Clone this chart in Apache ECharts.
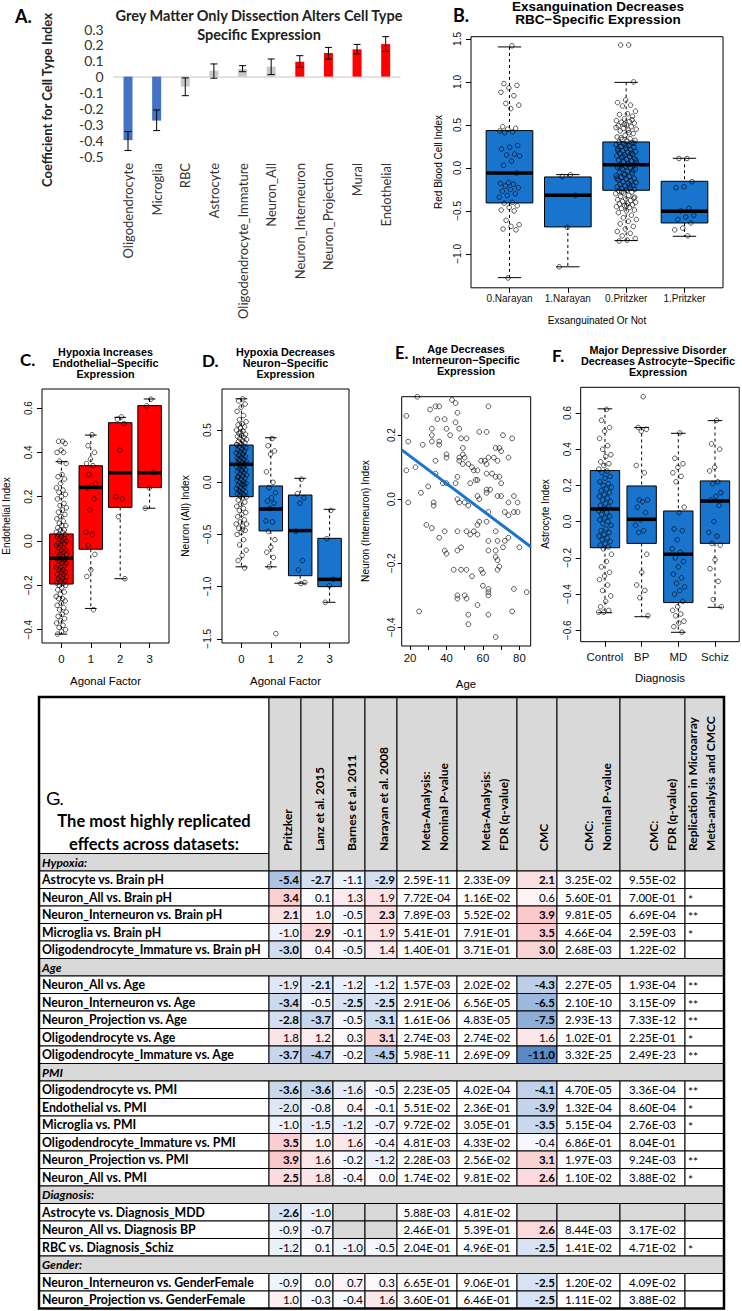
<!DOCTYPE html>
<html><head><meta charset="utf-8">
<script src="https://cdn.jsdelivr.net/npm/echarts@6/dist/echarts.min.js"></script>
<style>html,body{margin:0;padding:0;background:#fff;overflow:hidden}#c{width:742px;height:1311px}</style>
</head><body><div id="c"></div><script>
// ---------- Panel A data ----------
const cellTypes = ['Oligodendrocyte','Microglia','RBC','Astrocyte','Oligodendrocyte_Immature','Neuron_All','Neuron_Interneuron','Neuron_Projection','Mural','Endothelial'];
const greyMatterCoef = [-0.40,-0.277,-0.063,0.038,0.048,0.063,0.094,0.149,0.172,0.205];
const greyMatterLow  = [-0.465,-0.34,-0.12,-0.01,0.031,0.013,0.059,0.111,0.143,0.159];
const greyMatterHigh = [-0.346,-0.21,-0.008,0.08,0.069,0.111,0.132,0.184,0.203,0.252];
const greyMatterDir  = ['down','down','ns','ns','ns','ns','up','up','up','up'];

// ---------- Panel B data ----------
const exsGroups = ['0.Narayan','1.Narayan','0.Pritzker','1.Pritzker'];
const exsLow = [-1.276,-1.15,-0.845,-0.795];
const exsQ1  = [-0.407,-0.686,-0.26,-0.64];
const exsMed = [-0.058,-0.318,0.038,-0.505];
const exsQ3  = [0.434,-0.105,0.302,-0.155];
const exsHigh= [1.407,-0.078,0.995,0.112];
const rbcNarayan0 = [1.42,0.98,0.96,0.93,0.88,0.84,0.75,0.73,0.69,0.48,0.46,0.45,0.43,0.42,0.41,0.26,0.24,0.22,0.16,0.15,0.14,0.08,0.03,-0.06,-0.17,-0.18,-0.19,-0.21,-0.23,-0.25,-0.27,-0.30,-0.32,-0.34,-0.40,-0.41,-0.44,-0.46,-0.49,-0.50,-0.61,-0.66,-0.68,-0.71,-0.72,-1.28];
const rbcNarayan1 = [-0.08,-0.10,-0.32,-0.69,-1.15];
const rbcPritzker0 = [1.43,1.43,1.00,0.79,0.76,0.73,0.72,0.66,0.63,0.62,0.60,0.57,0.55,0.54,0.53,0.52,0.50,0.49,0.48,0.46,0.45,0.44,0.43,0.40,0.38,0.36,0.34,0.33,0.32,0.31,0.30,0.29,0.28,0.27,0.26,0.25,0.24,0.23,0.22,0.21,0.20,0.19,0.18,0.17,0.16,0.15,0.14,0.13,0.12,0.11,0.10,0.09,0.08,0.07,0.06,0.05,0.04,0.03,0.02,0.01,0.00,-0.01,-0.02,-0.04,-0.05,-0.06,-0.08,-0.09,-0.10,-0.11,-0.12,-0.13,-0.14,-0.15,-0.16,-0.17,-0.18,-0.19,-0.20,-0.21,-0.22,-0.23,-0.24,-0.25,-0.26,-0.27,-0.28,-0.29,-0.30,-0.32,-0.33,-0.35,-0.36,-0.37,-0.38,-0.39,-0.40,-0.41,-0.42,-0.43,-0.44,-0.45,-0.46,-0.47,-0.49,-0.50,-0.52,-0.55,-0.58,-0.60,-0.62,-0.65,-0.68,-0.71,-0.74,-0.76,-0.79,-0.82,-0.84,-0.85,0.56,0.51,0.47,0.41,0.35,0.29,0.26,0.20,0.17,0.13,0.09,0.05,0.01,-0.03,-0.07,-0.12,-0.20,-0.28,-0.34,-0.44];
const rbcPritzker1 = [0.11,0.11,-0.16,-0.22,-0.23,-0.47,-0.50,-0.55,-0.57,-0.60,-0.64,-0.70,-0.72,-0.79];

// ---------- Panel C data ----------
const agonalGroups = ['0','1','2','3'];
const endoLow = [-0.42,-0.304,-0.17,0.148];
const endoQ1  = [-0.194,-0.037,0.152,0.241];
const endoMed = [-0.078,0.242,0.308,0.308];
const endoQ3  = [0.032,0.34,0.534,0.611];
const endoHigh= [0.358,0.478,0.558,0.641];
const endoAgonal0 = [0.45,0.45,0.44,0.41,0.40,0.40,0.36,0.35,0.30,0.29,0.28,0.26,0.24,0.23,0.22,0.21,0.20,0.19,0.17,0.16,0.15,0.14,0.13,0.12,0.11,0.10,0.09,0.08,0.07,0.07,0.06,0.05,0.05,0.04,0.04,0.03,0.03,0.02,0.02,0.01,0.01,0.00,0.00,-0.01,-0.01,-0.02,-0.02,-0.03,-0.03,-0.04,-0.04,-0.05,-0.05,-0.06,-0.06,-0.07,-0.07,-0.08,-0.08,-0.08,-0.09,-0.09,-0.10,-0.10,-0.11,-0.11,-0.12,-0.12,-0.13,-0.13,-0.14,-0.14,-0.15,-0.15,-0.16,-0.16,-0.17,-0.17,-0.18,-0.18,-0.19,-0.19,-0.20,-0.20,-0.21,-0.22,-0.23,-0.24,-0.25,-0.26,-0.26,-0.27,-0.28,-0.29,-0.30,-0.31,-0.32,-0.33,-0.34,-0.35,-0.36,-0.37,-0.38,-0.39,-0.40,-0.41,-0.42];
const endoAgonal1 = [0.48,0.43,0.40,0.37,0.35,0.34,0.30,0.26,0.25,0.24,0.19,0.14,0.04,0.03,-0.02,-0.06,-0.13,-0.16,-0.31];
const endoAgonal2 = [0.56,0.55,0.53,0.41,0.20,0.19,0.11,-0.17];
const endoAgonal3 = [0.64,0.61,0.31,0.24,0.148];

// ---------- Panel D data ----------
const neuLow = [-0.81,-0.81,-0.967,-1.15];
const neuQ1  = [-0.138,-0.466,-0.895,-1.0];
const neuMed = [0.172,-0.256,-0.463,-0.93];
const neuQ3  = [0.357,-0.035,-0.122,-0.537];
const neuHigh= [0.80,0.427,0.038,-0.259];
const neuAgonal0 = [0.80,0.78,0.75,0.72,0.68,0.64,0.60,0.58,0.56,0.55,0.53,0.52,0.50,0.49,0.47,0.46,0.45,0.44,0.43,0.42,0.41,0.40,0.39,0.38,0.37,0.36,0.35,0.34,0.33,0.32,0.31,0.30,0.29,0.28,0.27,0.26,0.25,0.24,0.23,0.22,0.21,0.20,0.19,0.18,0.17,0.16,0.15,0.14,0.13,0.12,0.11,0.10,0.09,0.08,0.07,0.06,0.05,0.04,0.03,0.02,0.01,0.00,-0.01,-0.02,-0.03,-0.04,-0.05,-0.06,-0.07,-0.08,-0.09,-0.10,-0.11,-0.12,-0.13,-0.14,-0.15,-0.17,-0.19,-0.21,-0.23,-0.25,-0.27,-0.29,-0.31,-0.33,-0.36,-0.38,-0.40,-0.42,-0.44,-0.46,-0.48,-0.50,-0.55,-0.60,-0.65,-0.70,-0.75,-0.82,0.48,0.36,0.27,0.22,0.18,0.12,0.05,-0.02,-0.09,-0.40,-0.45];
const neuAgonal1 = [0.42,0.35,0.30,0.27,0.10,0.00,-0.05,-0.10,-0.15,-0.18,-0.20,-0.25,-0.37,-0.38,-0.47,-0.55,-0.62,-0.67,-0.72,-0.81,-1.45];
const neuAgonal2 = [0.03,-0.11,-0.15,-0.20,-0.47,-0.75,-0.84,-0.96,-0.97];
const neuAgonal3 = [-0.27,-0.54,-0.93,-0.99,-1.15];

// ---------- Panel E data ----------
const interneuronByAge = [[24,0.32],[43,0.31],[45,0.30],[31,0.28],[34,0.29],[36,0.29],[63,0.29],[18,0.26],[35,0.25],[39,0.25],[46,0.27],[45,0.24],[47,0.22],[32,0.22],[40,0.22],[19,0.18],[32,0.20],[32,0.18],[36,0.18],[36,0.17],[42,0.20],[48,0.19],[49,0.16],[58,0.21],[62,0.21],[71,0.20],[76,0.19],[27,0.17],[51,0.19],[49,0.14],[40,0.14],[40,0.13],[47,0.13],[47,0.12],[50,0.13],[49,0.11],[52,0.11],[59,0.12],[61,0.12],[62,0.11],[63,0.13],[66,0.13],[68,0.12],[70,0.15],[74,0.13],[34,0.12],[23,0.10],[18,0.09],[67,0.16],[69,0.16],[34,0.08],[45,0.05],[40,0.05],[38,0.05],[46,0.07],[54,0.10],[55,0.09],[57,0.09],[56,0.06],[57,0.06],[62,0.08],[65,0.08],[67,0.07],[69,0.07],[53,0.05],[30,0.04],[70,0.05],[19,-0.01],[26,0.02],[33,-0.01],[33,-0.02],[46,0.00],[47,-0.01],[50,-0.01],[52,-0.02],[57,0.01],[58,0.00],[62,0.02],[64,0.03],[62,0.03],[68,0.01],[70,0.01],[74,-0.01],[77,0.01],[79,-0.01],[63,-0.04],[58,-0.07],[62,-0.07],[57,-0.08],[32,-0.09],[29,-0.08],[36,-0.12],[39,-0.10],[46,-0.10],[51,-0.10],[55,-0.10],[53,-0.11],[63,-0.13],[67,-0.10],[68,-0.13],[79,-0.04],[77,-0.04],[72,-0.04],[74,-0.05],[39,-0.16],[40,-0.17],[46,-0.16],[48,-0.15],[67,-0.16],[71,-0.15],[72,-0.13],[74,-0.12],[80,-0.15],[67,-0.18],[63,-0.16],[57,-0.11],[68,-0.19],[68,-0.22],[44,-0.22],[48,-0.22],[51,-0.22],[59,-0.22],[60,-0.23],[69,-0.21],[54,-0.24],[60,-0.27],[46,-0.30],[46,-0.31],[50,-0.30],[51,-0.31],[57,-0.33],[63,-0.28],[63,-0.29],[63,-0.30],[77,-0.28],[84,-0.29],[52,-0.36],[25,-0.35],[63,-0.36],[76,-0.35],[52,-0.39],[67,-0.43]];
const ageFitIntercept = 0.220;
const ageFitSlope = -0.00427;

// ---------- Panel F data ----------
const diagGroups = ['Control','BP','MD','Schiz'];
const astroLow = [-0.503,-0.525,-0.611,-0.473];
const astroQ1  = [-0.144,-0.12,-0.447,-0.12];
const astroMed = [0.07,0.013,-0.18,0.114];
const astroQ3  = [0.282,0.197,0.059,0.225];
const astroHigh= [0.623,0.52,0.488,0.558];
const astroControl = [0.62,0.56,0.52,0.50,0.46,0.42,0.40,0.37,0.36,0.33,0.32,0.31,0.29,0.28,0.27,0.25,0.24,0.22,0.21,0.20,0.19,0.18,0.17,0.16,0.15,0.14,0.13,0.12,0.11,0.10,0.09,0.08,0.07,0.06,0.05,0.04,0.03,0.02,0.01,0.00,-0.01,-0.02,-0.04,-0.05,-0.06,-0.07,-0.08,-0.09,-0.10,-0.11,-0.12,-0.13,-0.14,-0.15,-0.18,-0.22,-0.25,-0.28,-0.30,-0.32,-0.35,-0.38,-0.41,-0.44,-0.47,-0.49,-0.50,-0.50];
const astroBP = [0.69,0.52,0.51,0.50,0.31,0.27,0.12,0.12,0.11,0.08,0.05,0.01,-0.02,-0.05,-0.06,-0.18,-0.28,-0.35,-0.38,-0.42,-0.52];
const astroMD = [0.49,0.35,0.32,0.30,0.27,0.25,0.22,0.08,0.05,-0.04,-0.05,-0.10,-0.15,-0.17,-0.20,-0.22,-0.25,-0.29,-0.31,-0.34,-0.36,-0.38,-0.40,-0.44,-0.47,-0.49,-0.51,-0.52,-0.55,-0.56,-0.58,-0.61];
const astroSchiz = [0.56,0.43,0.40,0.30,0.28,0.22,0.21,0.16,0.14,0.12,0.09,0.00,-0.06,-0.08,-0.12,-0.13,-0.21,-0.26,-0.33,-0.43,-0.47];

// ---------- Panel G (table) data ----------
const sectionNames = ['Hypoxia:','Age','PMI','Diagnosis:','Gender:'];
const sectionSizes = [5,5,6,3,2];
const colHeaders = [['Pritzker'],['Lanz et al. 2015'],['Barnes et al. 2011'],['Narayan et al. 2008'],['Meta-Analysis:','Nominal P-value'],['Meta-Analysis:','FDR (q-value)'],['CMC'],['CMC:','Nominal P-value'],['CMC:','FDR (q-value)'],['Replication in Microarray','Meta-analysis and CMCC']];
const rowLabels = ['Astrocyte vs. Brain pH','Neuron_All vs. Brain pH','Neuron_Interneuron vs. Brain pH','Microglia vs. Brain pH','Oligodendrocyte_Immature vs. Brain pH','Neuron_All vs. Age','Neuron_Interneuron vs. Age','Neuron_Projection vs. Age','Oligodendrocyte vs. Age','Oligodendrocyte_Immature vs. Age','Oligodendrocyte vs. PMI','Endothelial vs. PMI','Microglia vs. PMI','Oligodendrocyte_Immature vs. PMI','Neuron_Projection vs. PMI','Neuron_All vs. PMI','Astrocyte vs. Diagnosis_MDD','Neuron_All vs. Diagnosis BP','RBC vs. Diagnosis_Schiz','Neuron_Interneuron vs. GenderFemale','Neuron_Projection vs. GenderFemale'];
const pritzker   = [-5.4,3.4,2.1,-1.0,-3.0,-1.9,-3.4,-2.8,1.8,-3.7,-3.6,-2.0,-1.0,3.5,3.9,2.5,-2.6,-0.9,-1.2,-0.9,1.0];
const lanz2015   = [-2.7,0.1,1.0,2.9,0.4,-2.1,-0.5,-3.7,1.2,-4.7,-3.6,-0.8,-1.5,1.0,1.6,1.8,-1.0,-0.7,0.1,0.0,-0.3];
const barnes2011 = [-1.1,1.3,-0.5,-0.1,-0.5,-1.2,-2.5,-0.5,0.3,-0.2,-1.6,0.4,-1.2,1.6,-0.2,-0.4,null,null,-1.0,0.7,-0.4];
const narayan2008= [-2.9,1.9,2.3,1.9,1.4,-1.2,-2.5,-3.1,3.1,-4.5,-0.5,-0.1,-0.7,-0.4,-1.2,0.0,null,null,-0.5,0.3,1.6];
const metaNominalP = ['2.59E-11','7.72E-04','7.89E-03','5.41E-01','1.40E-01','1.57E-03','2.91E-06','1.61E-06','2.74E-03','5.98E-11','2.23E-05','5.51E-02','9.72E-02','4.81E-03','2.28E-03','1.74E-02','5.88E-03','2.46E-01','2.04E-01','6.65E-01','3.60E-01'];
const metaFDR = ['2.33E-09','1.16E-02','5.52E-02','7.91E-01','3.71E-01','2.02E-02','6.56E-05','4.83E-05','2.74E-02','2.69E-09','4.02E-04','2.36E-01','3.05E-01','4.33E-02','2.56E-02','9.81E-02','4.81E-02','5.39E-01','4.96E-01','9.06E-01','6.46E-01'];
const cmcEffect = [2.1,0.6,3.9,3.5,3.0,-4.3,-6.5,-7.5,1.6,-11.0,-4.1,-3.9,-3.5,-0.4,3.1,2.6,null,2.6,-2.5,-2.5,-2.5];
const cmcNominalP = ['3.25E-02','5.60E-01','9.81E-05','4.66E-04','2.68E-03','2.27E-05','2.10E-10','2.93E-13','1.02E-01','3.32E-25','4.70E-05','1.32E-04','5.15E-04','6.86E-01','1.97E-03','1.10E-02',null,'8.44E-03','1.41E-02','1.20E-02','1.11E-02'];
const cmcFDR = ['9.55E-02','7.00E-01','6.69E-04','2.59E-03','1.22E-02','1.93E-04','3.15E-09','7.33E-12','2.25E-01','2.49E-23','3.36E-04','8.60E-04','2.76E-03','8.04E-01','9.24E-03','3.88E-02',null,'3.17E-02','4.71E-02','4.09E-02','3.88E-02'];
const replication = ['','*','**','*','','**','**','**','*','**','**','*','*','','**','*',null,'','*','',''];

// ================= drawing =================
const chart = echarts.init(document.getElementById('c'), null, {renderer:'svg', width:742, height:1311});
const RF = 'Liberation Sans', CF = 'Lato';
const minus = v => (v < -1e-9 ? '\u2212' : '') + Math.abs(v).toFixed(1);
const jitter = i => ((((i + 1) * 0.6180339887) % 1) - 0.5) * 0.36;

function rX(g, min, max, ticks, labels, fmt, fs, margin, tl) {
  return {type:'value', gridIndex:g, min, max, position:'bottom', silent:true,
    axisLine:{show:false, onZero:false}, splitLine:{show:false}, minorTick:{show:false},
    axisTick:{show:true, length:tl, customValues:ticks, lineStyle:{color:'#000', width:1}},
    axisLabel:{show:true, customValues:labels, formatter:fmt, fontSize:fs, margin, color:'#111', fontFamily:RF}};
}
function rY(g, min, max, ticks, fs, margin, tl) {
  return {type:'value', gridIndex:g, min, max, position:'left', silent:true,
    axisLine:{show:false, onZero:false}, splitLine:{show:false}, minorTick:{show:false},
    axisTick:{show:true, length:tl, customValues:ticks, lineStyle:{color:'#000', width:1}},
    axisLabel:{show:true, customValues:ticks, rotate:90, formatter:minus, fontSize:fs, margin, color:'#111', fontFamily:RF}};
}
function boxRender(fill) {
  return function (params, api) {
    const x = api.value(0), lo = api.value(1), q1 = api.value(2), md = api.value(3), q3 = api.value(4), hi = api.value(5);
    const c = (a, b) => api.coord([a, b]);
    const pHi = c(x, hi), pQ3 = c(x, q3), pQ1 = c(x, q1), pLo = c(x, lo), pMd = c(x, md);
    const bl = c(x - 0.4, q3), br = c(x + 0.4, q1);
    const sl = c(x - 0.2, hi)[0], sr = c(x + 0.2, hi)[0];
    const dash = {stroke:'#000', lineWidth:1, lineDash:[3,3]}, solid = {stroke:'#000', lineWidth:1};
    return {type:'group', children:[
      {type:'line', shape:{x1:pHi[0], y1:pHi[1], x2:pQ3[0], y2:pQ3[1]}, style:dash},
      {type:'line', shape:{x1:pQ1[0], y1:pQ1[1], x2:pLo[0], y2:pLo[1]}, style:dash},
      {type:'line', shape:{x1:sl, y1:pHi[1], x2:sr, y2:pHi[1]}, style:solid},
      {type:'line', shape:{x1:sl, y1:pLo[1], x2:sr, y2:pLo[1]}, style:solid},
      {type:'rect', shape:{x:bl[0], y:bl[1], width:br[0]-bl[0], height:br[1]-bl[1]}, style:{fill, stroke:'#000', lineWidth:1}},
      {type:'line', shape:{x1:bl[0], y1:pMd[1], x2:br[0], y2:pMd[1]}, style:{stroke:'#000', lineWidth:3.5}}
    ]};
  };
}
function boxSeries(idx, fill, lo, q1, md, q3, hi) {
  return {type:'custom', xAxisIndex:idx, yAxisIndex:idx, silent:true, renderItem:boxRender(fill),
    encode:{x:0, y:[1,2,3,4,5]}, data: lo.map((v, i) => [i, lo[i], q1[i], md[i], q3[i], hi[i]])};
}
const pointStyle = {color:'rgba(0,0,0,0)', borderColor:'#000', borderWidth:0.8};
function stripSeries(idx, groups) {
  const data = [];
  groups.forEach((arr, g) => arr.forEach((v, i) => data.push([g + jitter(i), v])));
  return {type:'scatter', xAxisIndex:idx, yAxisIndex:idx, silent:true, symbol:'circle', symbolSize:4.6, itemStyle:pointStyle, data};
}

// ---------- table cells ----------
const colEdges = [0,230,262,294,326,358,418,478,518,581,646,685];
const HDR = 174 / 17.5;
const colKinds = ['label','eff','eff','eff','eff','p','p','eff','p','p','rep'];
const colData = [null, pritzker, lanz2015, barnes2011, narayan2008, metaNominalP, metaFDR, cmcEffect, cmcNominalP, cmcFDR, replication];
const cells = [];
cells.push({c0:0, c1:1, r0:0, r1:HDR - 1, kind:'title'});
cells.push({c0:0, c1:1, r0:HDR - 1, r1:HDR, kind:'section', text:sectionNames[0]});
for (let c = 1; c <= 10; c++) cells.push({c0:c, c1:c + 1, r0:0, r1:HDR, kind:'colhdr', lines:colHeaders[c - 1]});
let rowPos = HDR, k = 0;
sectionNames.forEach((s, si) => {
  if (si > 0) { cells.push({c0:0, c1:11, r0:rowPos, r1:rowPos + 1, kind:'section', text:s}); rowPos++; }
  for (let j = 0; j < sectionSizes[si]; j++, k++, rowPos++) {
    cells.push({c0:0, c1:1, r0:rowPos, r1:rowPos + 1, kind:'label', text:rowLabels[k]});
    for (let c = 1; c <= 10; c++) cells.push({c0:c, c1:c + 1, r0:rowPos, r1:rowPos + 1, kind:colKinds[c], v:colData[c][k]});
  }
});
cells.push({c0:0, c1:11, r0:0, r1:rowPos, kind:'outer'});
const effColor = v => {
  const t = Math.min(Math.abs(v) / 11, 1);
  const mid = [252,252,255], end = v < 0 ? [90,138,198] : [248,105,107];
  return 'rgb(' + mid.map((m, i) => Math.round(m + (end[i] - m) * t)).join(',') + ')';
};
function txt(text, x, y, size, weight, style, align, va, rot, family) {
  return {type:'text', x, y, rotation:rot || 0, style:{text, fill:'#000', fontSize:size, fontFamily:family || CF,
    fontWeight:weight || 'normal', fontStyle:style || 'normal', align:align || 'left', verticalAlign:va || 'middle',
    textAlign:align || 'left', textVerticalAlign:va || 'middle'}};
}
function tableRender(params, api) {
  const cell = cells[params.dataIndex];
  const a = api.coord([api.value(0), api.value(2)]), b = api.coord([api.value(1), api.value(3)]);
  const x = a[0], y = a[1], w = b[0] - a[0], h = b[1] - a[1];
  if (cell.kind === 'outer') return {type:'rect', shape:{x, y, width:w, height:h}, style:{fill:'transparent', stroke:'#000', lineWidth:2.5}};
  let fill = '#fff';
  if (cell.kind === 'section' || cell.kind === 'colhdr') fill = '#D9D9D9';
  if (cell.kind === 'eff') fill = cell.v == null ? '#D9D9D9' : effColor(cell.v);
  if ((cell.kind === 'p' || cell.kind === 'rep') && cell.v == null) fill = '#D9D9D9';
  const kids = [{type:'rect', shape:{x, y, width:w, height:h}, style:{fill, stroke:'#000', lineWidth:1}}];
  const cy = y + h / 2;
  if (cell.kind === 'title') {
    kids.push(txt('G', x + 7, y + h - 55, 19, 'normal', 'normal', 'left', 'middle', 0, RF));
    kids.push(txt('.', x + 20, y + h - 55, 19, 'normal', 'normal', 'left', 'middle', 0, RF));
    kids.push(txt('The most highly replicated', x + w / 2, y + h - 33, 16.5, 'bold', 'normal', 'center'));
    kids.push(txt('effects across datasets:', x + w / 2, y + h - 10, 16.5, 'bold', 'normal', 'center'));
  } else if (cell.kind === 'section') {
    kids.push(txt(cell.text, x + 3, cy, 12, 'bold', 'italic'));
  } else if (cell.kind === 'colhdr') {
    const n = cell.lines.length;
    cell.lines.forEach((ln, i) => {
      const lx = x + w - 14 - (n - 1 - i) * 18;
      kids.push(txt(ln, lx, y + h - 20, 12, 'bold', 'normal', 'left', 'middle', Math.PI / 2));
    });
  } else if (cell.kind === 'label') {
    kids.push(txt(cell.text, x + 3, cy, 12.3, 'bold'));
  } else if (cell.kind === 'eff' && cell.v != null) {
    kids.push(txt(cell.v.toFixed(1), x + w - 2, cy, 11.5, Math.abs(cell.v) > 2.05 ? 'bold' : 'normal', 'normal', 'right'));
  } else if (cell.kind === 'p' && cell.v != null) {
    kids.push(txt(cell.v, x + w / 2, cy, 11.5, 'normal', 'normal', 'center'));
  } else if (cell.kind === 'rep' && cell.v) {
    kids.push(txt(cell.v, x + 3, cy + 2, 12, 'normal', 'normal', 'left'));
  }
  return {type:'group', children:kids};
}

// ---------- texts (titles, axis names, panel letters) ----------
function G(text, x, y, o) {
  o = o || {};
  return {type:'text', x, y, rotation:o.rot || 0, silent:true, z:100, style:{text, fill:o.color || '#000',
    fontSize:o.size || 12, fontFamily:o.family || RF, fontWeight:o.weight || 'normal',
    align:o.align || 'center', verticalAlign:'middle', textAlign:o.align || 'center', textVerticalAlign:'middle'}};
}
function titleLines(lines, cx, y0, size, step) {
  return lines.map((ln, i) => G(ln, cx, y0 + i * step, {size, weight:'bold'}));
}
const R90 = Math.PI / 2;
const texts = [
  G('A.', 15, 16, {size:18, weight:'bold', family:CF, align:'left'}),
  G('Grey Matter Only Dissection Alters Cell Type', 259, 15, {size:14.5, weight:'bold', family:CF, color:'#222'}),
  G('Specific Expression', 259, 34, {size:14.5, weight:'bold', family:CF, color:'#222'}),
  G('Coefficient for Cell Type Index', 47, 100, {size:13, weight:'bold', family:CF, rot:R90, color:'#222'}),
  G('B.', 453, 15, {size:18, weight:'bold', family:CF, align:'left'}),
  ...titleLines(['Exsanguination Decreases', 'RBC\u2212Specific Expression'], 598, 6, 13.5, 13.5),
  G('Red Blood Cell Index', 438, 162, {size:10, rot:R90}),
  G('Exsanguinated Or Not', 597, 320, {size:10}),
  G('C.', 20, 359, {size:17, weight:'bold', family:CF, align:'left'}),
  ...titleLines(['Hypoxia Increases', 'Endothelial\u2212Specific', 'Expression'], 105.5, 351.5, 10.8, 11),
  G('Endothelial Index', 6, 516, {size:10.1, rot:R90}),
  G('Agonal Factor', 105.5, 681, {size:11.4}),
  G('D.', 202, 360, {size:17, weight:'bold', family:CF, align:'left'}),
  ...titleLines(['Hypoxia Decreases', 'Neuron\u2212Specific', 'Expression'], 285.5, 351.5, 10.8, 11),
  G('Neuron (All) Index', 185, 516, {size:10.1, rot:R90}),
  G('Agonal Factor', 285.5, 681, {size:11.4}),
  G('E.', 395, 353, {size:16.5, weight:'bold', family:CF, align:'left'}),
  ...titleLines(['Age Decreases', 'Interneuron\u2212Specific', 'Expression'], 466, 349, 10.8, 11),
  G('Neuron (Interneuron) Index', 365, 521, {size:10.1, rot:R90}),
  G('Age', 466, 684, {size:11.4}),
  G('F.', 552, 355, {size:17, weight:'bold', family:CF, align:'left'}),
  ...titleLines(['Major Depressive Disorder', 'Decreases Astrocyte\u2212Specific', 'Expression'], 658, 350, 10.8, 11),
  G('Astrocyte Index', 545, 514, {size:10.1, rot:R90}),
  G('Diagnosis', 660, 678, {size:11.4})
];

const grids = [
  {left:113.7, top:29, width:286.3, height:127},
  {left:471, top:36.7, width:252, height:251.1, show:true, borderColor:'#000', borderWidth:1, backgroundColor:'transparent'},
  {left:42, top:389, width:127, height:254, show:true, borderColor:'#000', borderWidth:1, backgroundColor:'transparent'},
  {left:222, top:389, width:127, height:254, show:true, borderColor:'#000', borderWidth:1, backgroundColor:'transparent'},
  {left:401.7, top:396.7, width:129, height:249.3, show:true, borderColor:'#000', borderWidth:1, backgroundColor:'transparent'},
  {left:580.7, top:387.3, width:158.5, height:254.4, show:true, borderColor:'#000', borderWidth:1, backgroundColor:'transparent'},
  {left:39, top:697, width:685, height:611.5}
].map(g => Object.assign({outerBoundsMode:'none', containLabel:false}, g));

const catFmt = names => v => names[Math.round(v)];
const xAxes = [
  {type:'category', gridIndex:0, data:cellTypes, position:'bottom', silent:true,
    axisLine:{show:false, onZero:false}, axisTick:{show:false},
    axisLabel:{interval:0, rotate:90, margin:7, fontSize:13, fontFamily:CF, color:'#333'}},
  rX(1, -0.66, 3.66, [0,1,2,3], [0,1,2,3], catFmt(exsGroups), 10, 6, 5),
  rX(2, -0.66, 3.66, [0,1,2,3], [0,1,2,3], catFmt(agonalGroups), 11.4, 10, 5),
  rX(3, -0.66, 3.66, [0,1,2,3], [0,1,2,3], catFmt(agonalGroups), 11.4, 10, 5),
  rX(4, 15.45, 86.2, [20,30,40,50,60,70,80], [20,40,60,80], v => String(v), 11.4, 6, 4),
  rX(5, -0.662, 3.66, [0,1,2,3], [0,1,2,3], catFmt(diagGroups), 11.4, 9.5, 5),
  {type:'value', gridIndex:6, min:0, max:685, show:false},
  {type:'category', gridIndex:0, data:cellTypes, position:'bottom', silent:true,
    axisLine:{show:true, onZero:true, lineStyle:{color:'#D9D9D9', width:1.5}}, axisTick:{show:false}, axisLabel:{show:false}}
];
const yAxes = [
  {type:'value', gridIndex:0, min:-0.5, max:0.3, interval:0.1, silent:true,
    axisLine:{show:false, onZero:false}, axisTick:{show:false}, splitLine:{show:false},
    axisLabel:{margin:10, fontSize:14, fontFamily:CF, color:'#333',
      formatter: v => Math.abs(v) < 1e-9 ? '0' : String(Math.round(v * 10) / 10)}},
  rY(1, -1.394, 1.526, [-1,-0.5,0,0.5,1,1.5], 10, 9, 5),
  rY(2, -0.46, 0.686, [-0.4,-0.2,0,0.2,0.4,0.6], 10, 9, 5),
  rY(3, -1.54, 0.894, [-1.5,-1,-0.5,0,0.5], 10, 10, 5),
  rY(4, -0.458, 0.32, [-0.4,-0.2,0,0.2], 10, 5, 4),
  rY(5, -0.663, 0.742, [-0.6,-0.4,-0.2,0,0.2,0.4,0.6], 10, 8.7, 5),
  {type:'value', gridIndex:6, min:0, max:HDR + 25, inverse:true, show:false}
];

const colorOf = {down:'#4472C4', ns:'#C9C9C9', up:'#FF0000'};
const series = [
  {type:'bar', xAxisIndex:0, yAxisIndex:0, barWidth:9, silent:true,
    data: greyMatterCoef.map((v, i) => ({value:v, itemStyle:{color:colorOf[greyMatterDir[i]]}}))},
  {type:'custom', xAxisIndex:0, yAxisIndex:0, silent:true, z:3,
    data: cellTypes.map((c, i) => [i, greyMatterLow[i], greyMatterHigh[i]]),
    renderItem: (params, api) => {
      const lo = api.coord([api.value(0), api.value(1)]), hi = api.coord([api.value(0), api.value(2)]);
      const s = {stroke:'#000', lineWidth:1};
      return {type:'group', children:[
        {type:'line', shape:{x1:lo[0], y1:lo[1], x2:hi[0], y2:hi[1]}, style:s},
        {type:'line', shape:{x1:lo[0]-3.5, y1:lo[1], x2:lo[0]+3.5, y2:lo[1]}, style:s},
        {type:'line', shape:{x1:hi[0]-3.5, y1:hi[1], x2:hi[0]+3.5, y2:hi[1]}, style:s}]};
    }},
  boxSeries(1, '#1874CD', exsLow, exsQ1, exsMed, exsQ3, exsHigh),
  stripSeries(1, [rbcNarayan0, rbcNarayan1, rbcPritzker0, rbcPritzker1]),
  boxSeries(2, '#FF0000', endoLow, endoQ1, endoMed, endoQ3, endoHigh),
  stripSeries(2, [endoAgonal0, endoAgonal1, endoAgonal2, endoAgonal3]),
  boxSeries(3, '#1874CD', neuLow, neuQ1, neuMed, neuQ3, neuHigh),
  stripSeries(3, [neuAgonal0, neuAgonal1, neuAgonal2, neuAgonal3]),
  {type:'scatter', xAxisIndex:4, yAxisIndex:4, silent:true, symbol:'circle', symbolSize:4.8, itemStyle:pointStyle, data:interneuronByAge},
  {type:'line', xAxisIndex:4, yAxisIndex:4, silent:true, symbol:'none', lineStyle:{color:'#1874CD', width:3},
    data:[[15.45, ageFitIntercept + ageFitSlope * 15.45], [86.2, ageFitIntercept + ageFitSlope * 86.2]]},
  boxSeries(5, '#1874CD', astroLow, astroQ1, astroMed, astroQ3, astroHigh),
  stripSeries(5, [astroControl, astroBP, astroMD, astroSchiz]),
  {type:'custom', xAxisIndex:6, yAxisIndex:6, silent:true, renderItem:tableRender,
    encode:{x:[0,1], y:[2,3]}, data: cells.map(c => [colEdges[c.c0], colEdges[c.c1], c.r0, c.r1])}
];

chart.setOption({
  animation:false, backgroundColor:'#fff', textStyle:{fontFamily:RF},
  grid:grids, xAxis:xAxes, yAxis:yAxes, series, graphic:{elements:texts}
});
</script></body></html>
